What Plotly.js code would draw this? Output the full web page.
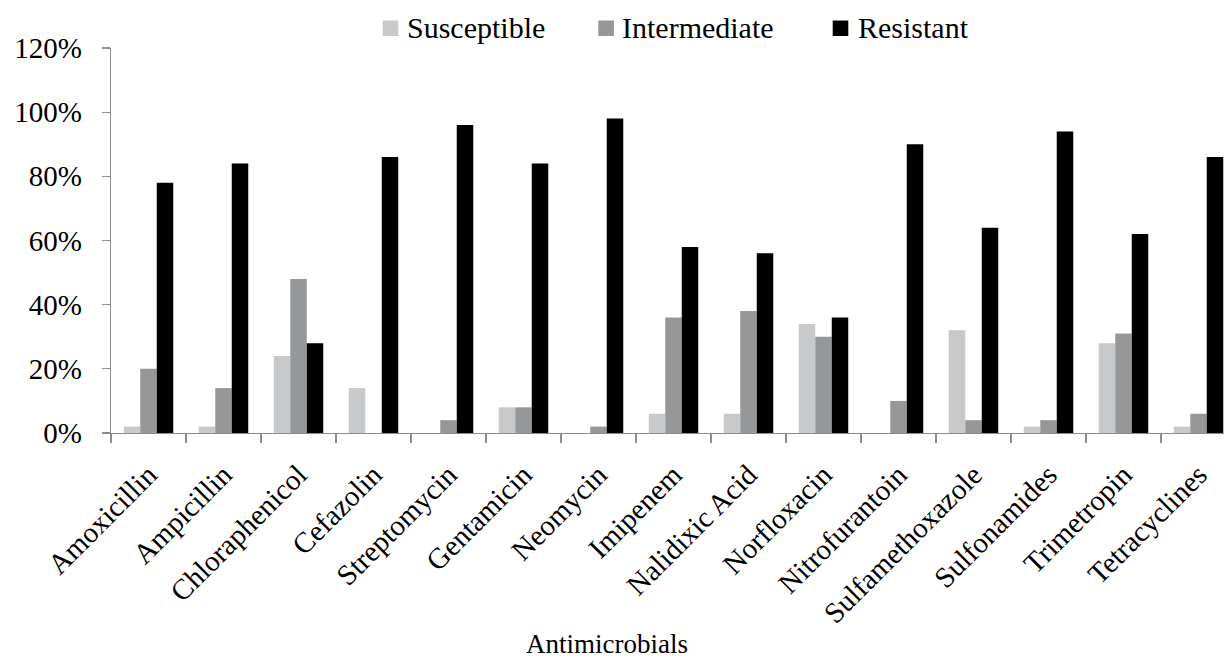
<!DOCTYPE html>
<html>
<head>
<meta charset="utf-8">
<script src="https://cdn.plot.ly/plotly-3.0.1.min.js"></script>
<style>html,body{margin:0;padding:0;background:#fff;overflow:hidden}</style>
</head>
<body>
<div id="chart" style="width:1224px;height:660px"></div>
<script>
const categories = ["Amoxicillin","Ampicillin","Chloraphenicol","Cefazolin","Streptomycin","Gentamicin","Neomycin","Imipenem","Nalidixic Acid","Norfloxacin","Nitrofurantoin","Sulfamethoxazole","Sulfonamides","Trimetropin","Tetracyclines"];
const seriesNames = ["Susceptible","Intermediate","Resistant"];
const susceptible = [0.02,0.02,0.24,0.14,0,0.08,0,0.06,0.06,0.34,0,0.32,0.02,0.28,0.02];
const intermediate = [0.20,0.14,0.48,0,0.04,0.08,0.02,0.36,0.38,0.30,0.10,0.04,0.04,0.31,0.06];
const resistant = [0.78,0.84,0.28,0.86,0.96,0.84,0.98,0.58,0.56,0.36,0.90,0.64,0.94,0.62,0.86];
const yTickVals = [0,0.2,0.4,0.6,0.8,1.0,1.2];
const yTickText = ["0%","20%","40%","60%","80%","100%","120%"];
const xTitle = "Antimicrobials";

const colors = ["#c8c9cb","#969799","#000000"];
const values = [susceptible, intermediate, resistant];
const FONT = "Liberation Serif, Times New Roman, serif";

// plot area in pixels
const L = 111, T = 48, W = 1224, H = 660, B = 433;
const PW = W - L, PH = B - T;
const px2x = p => (p - L) / PW;
const py2y = p => (B - p) / PH;

const traces = seriesNames.map((name, i) => ({
  type: "bar",
  name: name,
  x: categories,
  y: values[i],
  marker: {color: colors[i], line: {width: 0}},
  showlegend: false,
  hoverinfo: "x+y+name"
}));

// custom legend
const legendSquares = [382.7, 598.3, 832.7];
const legendTexts = [405, 620, 856];
const shapes = seriesNames.map((n, i) => ({
  type: "rect", xref: "paper", yref: "paper",
  x0: px2x(legendSquares[i]), x1: px2x(legendSquares[i] + 15.6),
  y0: py2y(36), y1: py2y(20.5),
  fillcolor: colors[i], line: {width: 0}
}));
const annotations = seriesNames.map((n, i) => ({
  text: n, xref: "paper", yref: "paper",
  x: px2x(legendTexts[i]), y: py2y(27), xanchor: "left", yanchor: "middle",
  showarrow: false, font: {family: FONT, size: 30, color: "#000"}
}));
annotations.push({
  text: xTitle, xref: "paper", yref: "paper",
  x: px2x(606.5), y: py2y(644), xanchor: "center", yanchor: "middle",
  showarrow: false, font: {family: FONT, size: 27, color: "#000"}
});

const layout = {
  width: W, height: H,
  margin: {l: L, r: 0, t: T, b: H - B, pad: 0},
  paper_bgcolor: "#fff", plot_bgcolor: "#fff",
  font: {family: FONT, color: "#000"},
  barmode: "group",
  bargap: 0.34,
  bargroupgap: 0,
  showlegend: false,
  xaxis: {
    type: "category",
    range: [-0.5, -0.5 + PW / 75],
    showgrid: false, zeroline: false,
    showline: true, linecolor: "#8c8c8c", linewidth: 1.3,
    ticks: "outside", ticklen: 9, tickcolor: "#8c8c8c", tickwidth: 1.3,
    tickson: "boundaries",
    tickangle: -45,
    ticklabelstandoff: 12,
    tickfont: {family: FONT, size: 29, color: "#000"},
    automargin: false
  },
  yaxis: {
    range: [0, 1.2],
    tickvals: yTickVals, ticktext: yTickText,
    showgrid: false, zeroline: false,
    showline: true, linecolor: "#8c8c8c", linewidth: 1.3,
    ticks: "outside", ticklen: 8, tickcolor: "#8c8c8c", tickwidth: 1.3,
    ticklabelstandoff: 14,
    tickfont: {family: FONT, size: 29, color: "#000"},
    automargin: false
  },
  shapes: shapes,
  annotations: annotations
};

Plotly.newPlot("chart", traces, layout, {displayModeBar: false, staticPlot: true});
</script>
</body>
</html>
